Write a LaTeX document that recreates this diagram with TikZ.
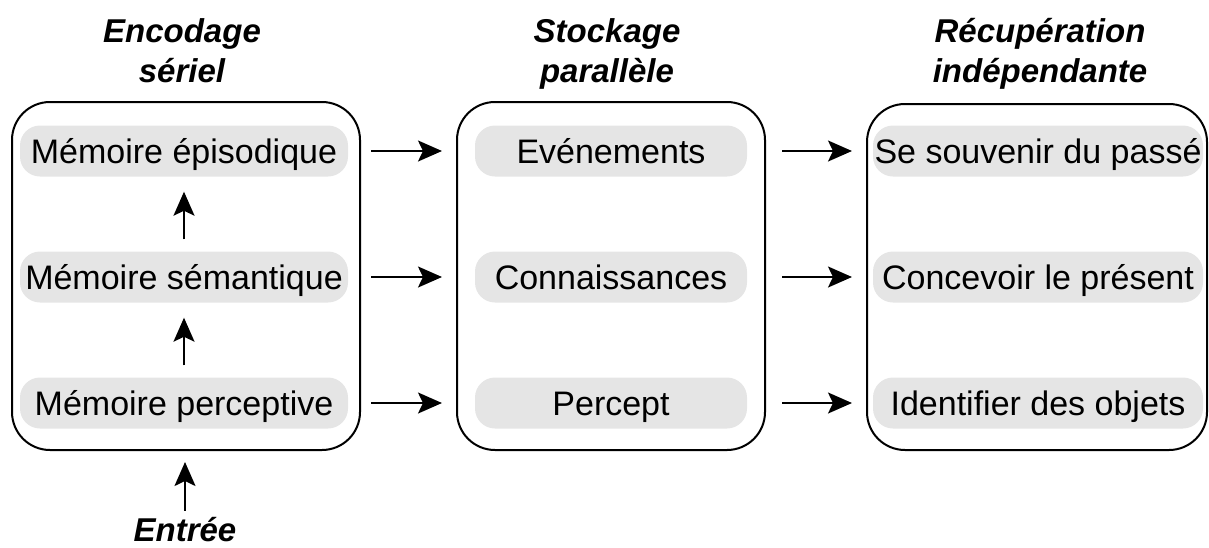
\documentclass[tikz,border=0pt]{standalone}
\usepackage{fontspec}
\setmainfont{Liberation Sans}
\usetikzlibrary{arrows.meta}
\begin{document}
\begin{tikzpicture}[x=1pt,y=-1pt,
  bigbox/.style={draw, line width=2pt, rounded corners=38pt, inner sep=0pt},
  pill/.style={fill=black!10, rounded corners=20pt, minimum height=51pt, inner sep=0pt, text height=24pt, text depth=0pt, font=\fontsize{34}{38}\selectfont},
  title/.style={font=\fontsize{33}{40}\selectfont\bfseries\itshape, align=center, inner sep=0pt},
  arr/.style={line width=2pt, -{Stealth[length=24pt, width=21pt, inset=5pt]}}]
\useasboundingbox (0,0) rectangle (1209,547);
% big boxes
\node[bigbox, minimum width=348pt, minimum height=348pt] (lbox) at (186,276) {};
\node[bigbox, minimum width=308pt, minimum height=348pt] (mbox) at (611,276) {};
\node[bigbox, minimum width=340pt, minimum height=346pt] (rbox) at (1037,277) {};
% titles
\node[title, anchor=base] (t1a) at (182,42) {Encodage};
\node[title, anchor=base] (t1b) at (182,82) {sériel};
\node[title, anchor=base] (t2a) at (607,42) {Stockage};
\node[title, anchor=base] (t2b) at (607,82) {parallèle};
\node[title, anchor=base] (t3a) at (1040,42) {Récupération};
\node[title, anchor=base] (t3b) at (1040,82) {indépendante};
\node[title, anchor=base] (in) at (185,541) {Entrée};
% pills
\node[pill, minimum width=328pt] (ep) at (184,151) {Mémoire épisodique};
\node[pill, minimum width=328pt] (se) at (184,277) {Mémoire sémantique};
\node[pill, minimum width=328pt] (pe) at (184,403) {Mémoire perceptive};
\node[pill, minimum width=272pt] (ev) at (611,151) {Evénements};
\node[pill, minimum width=272pt] (co) at (611,277) {Connaissances};
\node[pill, minimum width=272pt] (pc) at (611,403) {Percept};
\node[pill, minimum width=330pt] (sp) at (1038,151) {Se souvenir du passé};
\node[pill, minimum width=330pt] (cp) at (1038,277) {Concevoir le présent};
\node[pill, minimum width=330pt] (io) at (1038,403) {Identifier des objets};
% vertical arrows
\draw[arr, shorten <=12pt, shorten >=15pt] (se.north) -- (ep.south);
\draw[arr, shorten <=12pt, shorten >=15pt] (pe.north) -- (se.south);
\draw[arr, shorten <=6pt, shorten >=11pt] (in.north) -- (in.north |- lbox.south);
% horizontal arrows
\draw[arr, shorten <=10pt, shorten >=14pt] (lbox.east |- ep) -- (mbox.west |- ep);
\draw[arr, shorten <=10pt, shorten >=14pt] (lbox.east |- se) -- (mbox.west |- se);
\draw[arr, shorten <=10pt, shorten >=14pt] (lbox.east |- pe) -- (mbox.west |- pe);
\draw[arr, shorten <=16pt, shorten >=14pt] (mbox.east |- ev) -- (rbox.west |- ev);
\draw[arr, shorten <=16pt, shorten >=14pt] (mbox.east |- co) -- (rbox.west |- co);
\draw[arr, shorten <=16pt, shorten >=14pt] (mbox.east |- pc) -- (rbox.west |- pc);
\end{tikzpicture}
\end{document}
